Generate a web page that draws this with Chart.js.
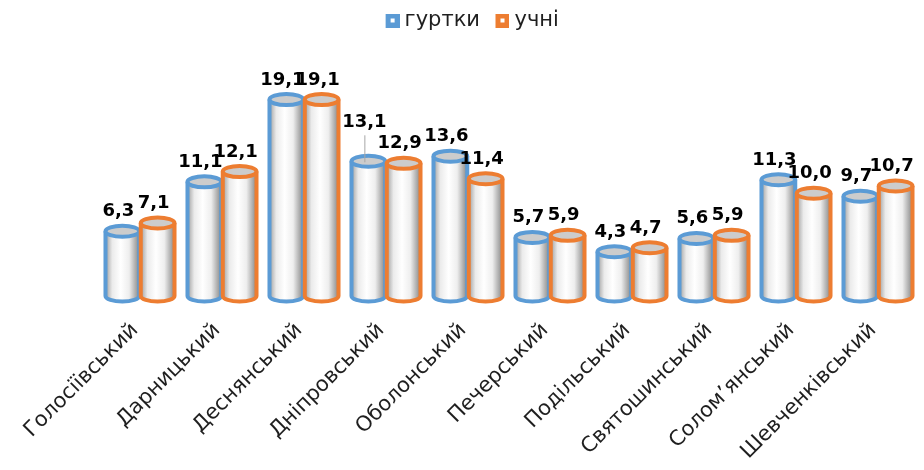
<!DOCTYPE html>
<html>
<head>
<meta charset="utf-8">
<script src="https://cdn.jsdelivr.net/npm/chart.js@4/dist/chart.umd.min.js"></script>
<style>
  html, body { margin: 0; padding: 0; background: #ffffff; }
  canvas { display: block; }
</style>
</head>
<body>
<canvas id="chart" width="924" height="470"></canvas>
<script>
// Райони та значення двох рядів
const districts = ['Голосіївський', 'Дарницький', 'Деснянський', 'Дніпровський', 'Оболонський',
  'Печерський', 'Подільський', 'Святошинський', 'Солом’янський', 'Шевченківський'];
const seriesNames = ['гуртки', 'учні'];
const circles = [6.3, 11.1, 19.1, 13.1, 13.6, 5.7, 4.3, 5.6, 11.3, 9.7];
const pupils = [7.1, 12.1, 19.1, 12.9, 11.4, 5.9, 4.7, 5.9, 10.0, 10.7];

const COLORS = ['#5b9bd5', '#ed7d31'];
const FONT = 'DejaVu Sans';
const TEXT = '#1f1f1f';

// label lifted above its neighbour, joined to its bar by a thin leader line
const LEADER = { dataset: 0, index: 3, lift: 19 };

function legendMarker(color) {
  const c = document.createElement('canvas');
  c.width = 25; c.height = 14;
  const g = c.getContext('2d');
  g.fillStyle = color;
  g.fillRect(11, 0, 14, 14);
  g.fillStyle = '#ffffff';
  g.fillRect(16, 5, 4, 4);
  return c;
}

function fmt(v) { return v.toFixed(1).replace('.', ','); }

// a cylinder drawn over the bar element: shaded body, coloured outline, oval lid
function drawCylinder(ctx, el, color) {
  const lw = 4;
  const w = el.width + 2.5;           // neighbouring cylinders overlap slightly
  const left = el.x - w / 2 + lw / 2;
  const right = el.x + w / 2 - lw / 2;
  const rx = (right - left) / 2;
  const ry = 5.5;
  const top = el.y, base = el.base;

  const grad = ctx.createLinearGradient(left, 0, right, 0);
  grad.addColorStop(0, '#9e9e9e');
  grad.addColorStop(0.2, '#ebebeb');
  grad.addColorStop(0.45, '#ffffff');
  grad.addColorStop(0.7, '#eeeeee');
  grad.addColorStop(1, '#858585');

  ctx.save();
  ctx.lineWidth = lw;
  ctx.lineJoin = 'round';
  ctx.strokeStyle = color;

  ctx.beginPath();
  ctx.moveTo(left, top);
  ctx.lineTo(left, base);
  ctx.ellipse(el.x, base, rx, ry, 0, Math.PI, 0, true);
  ctx.lineTo(right, top);
  ctx.closePath();
  ctx.fillStyle = grad;
  ctx.fill();
  ctx.beginPath();
  ctx.moveTo(left, top);
  ctx.lineTo(left, base);
  ctx.ellipse(el.x, base, rx, ry, 0, Math.PI, 0, true);
  ctx.lineTo(right, top);
  ctx.stroke();

  ctx.beginPath();
  ctx.ellipse(el.x, top, rx, ry, 0, 0, Math.PI * 2);
  ctx.fillStyle = '#cccccc';
  ctx.fill();
  ctx.stroke();
  ctx.restore();
}

const cylinders = {
  id: 'cylinders',
  afterDatasetsDraw(chart) {
    const ctx = chart.ctx;
    const n = chart.data.labels.length;
    // category by category, so each orange cylinder sits over its blue neighbour
    for (let i = 0; i < n; i++) {
      chart.data.datasets.forEach((ds, di) => {
        drawCylinder(ctx, chart.getDatasetMeta(di).data[i], COLORS[di]);
      });
    }
    ctx.save();
    ctx.font = 'bold 18px "' + FONT + '"';
    ctx.fillStyle = '#000000';
    ctx.textAlign = 'center';
    ctx.textBaseline = 'alphabetic';
    chart.data.datasets.forEach((ds, di) => {
      const meta = chart.getDatasetMeta(di);
      meta.data.forEach((el, i) => {
        const x = el.x - 4;
        let y = el.y - 15;
        if (di === LEADER.dataset && i === LEADER.index) {
          y -= LEADER.lift;
          ctx.save();
          ctx.strokeStyle = '#a6a6a6';
          ctx.lineWidth = 1;
          ctx.beginPath();
          ctx.moveTo(el.x - 3.5, y + 8);
          ctx.lineTo(el.x - 3.5, el.y + 1);
          ctx.stroke();
          ctx.restore();
        }
        ctx.fillText(fmt(ds.data[i]), x, y);
      });
    });
    ctx.restore();
  }
};

const markers = COLORS.map(legendMarker);

new Chart(document.getElementById('chart'), {
  type: 'bar',
  data: {
    labels: districts,
    datasets: [
      { label: seriesNames[0], data: circles, backgroundColor: 'rgba(0,0,0,0)', borderWidth: 0,
        categoryPercentage: 0.86, barPercentage: 1 },
      { label: seriesNames[1], data: pupils, backgroundColor: 'rgba(0,0,0,0)', borderWidth: 0,
        categoryPercentage: 0.86, barPercentage: 1 }
    ]
  },
  options: {
    responsive: false,
    devicePixelRatio: 1,
    animation: false,
    layout: { padding: { left: 20, right: 5, top: 0, bottom: 0 } },
    plugins: {
      tooltip: { enabled: false },
      legend: {
        position: 'top',
        labels: {
          usePointStyle: true,
          pointStyleWidth: 14,
          padding: 10,
          color: TEXT,
          font: { family: FONT, size: 21 },
          generateLabels: (chart) => chart.data.datasets.map((ds, i) => ({
            text: ds.label,
            pointStyle: markers[i],
            fillStyle: COLORS[i],
            strokeStyle: 'rgba(0,0,0,0)',
            lineWidth: 0,
            fontColor: TEXT,
            hidden: !chart.isDatasetVisible(i),
            datasetIndex: i
          }))
        }
      }
    },
    scales: {
      x: {
        grid: { display: false, drawTicks: false },
        border: { display: false },
        ticks: {
          autoSkip: false,
          minRotation: 45,
          maxRotation: 45,
          padding: 22,
          labelOffset: -5,
          color: TEXT,
          font: { family: FONT, size: 21 }
        },
        afterFit: (scale) => { scale.height = 174; }
      },
      y: {
        min: 0,
        max: 24.8,
        grid: { display: false, drawTicks: false },
        border: { display: false },
        ticks: { display: false },
        afterFit: (scale) => { scale.width = 79; }
      }
    }
  },
  plugins: [cylinders]
});
</script>
</body>
</html>
